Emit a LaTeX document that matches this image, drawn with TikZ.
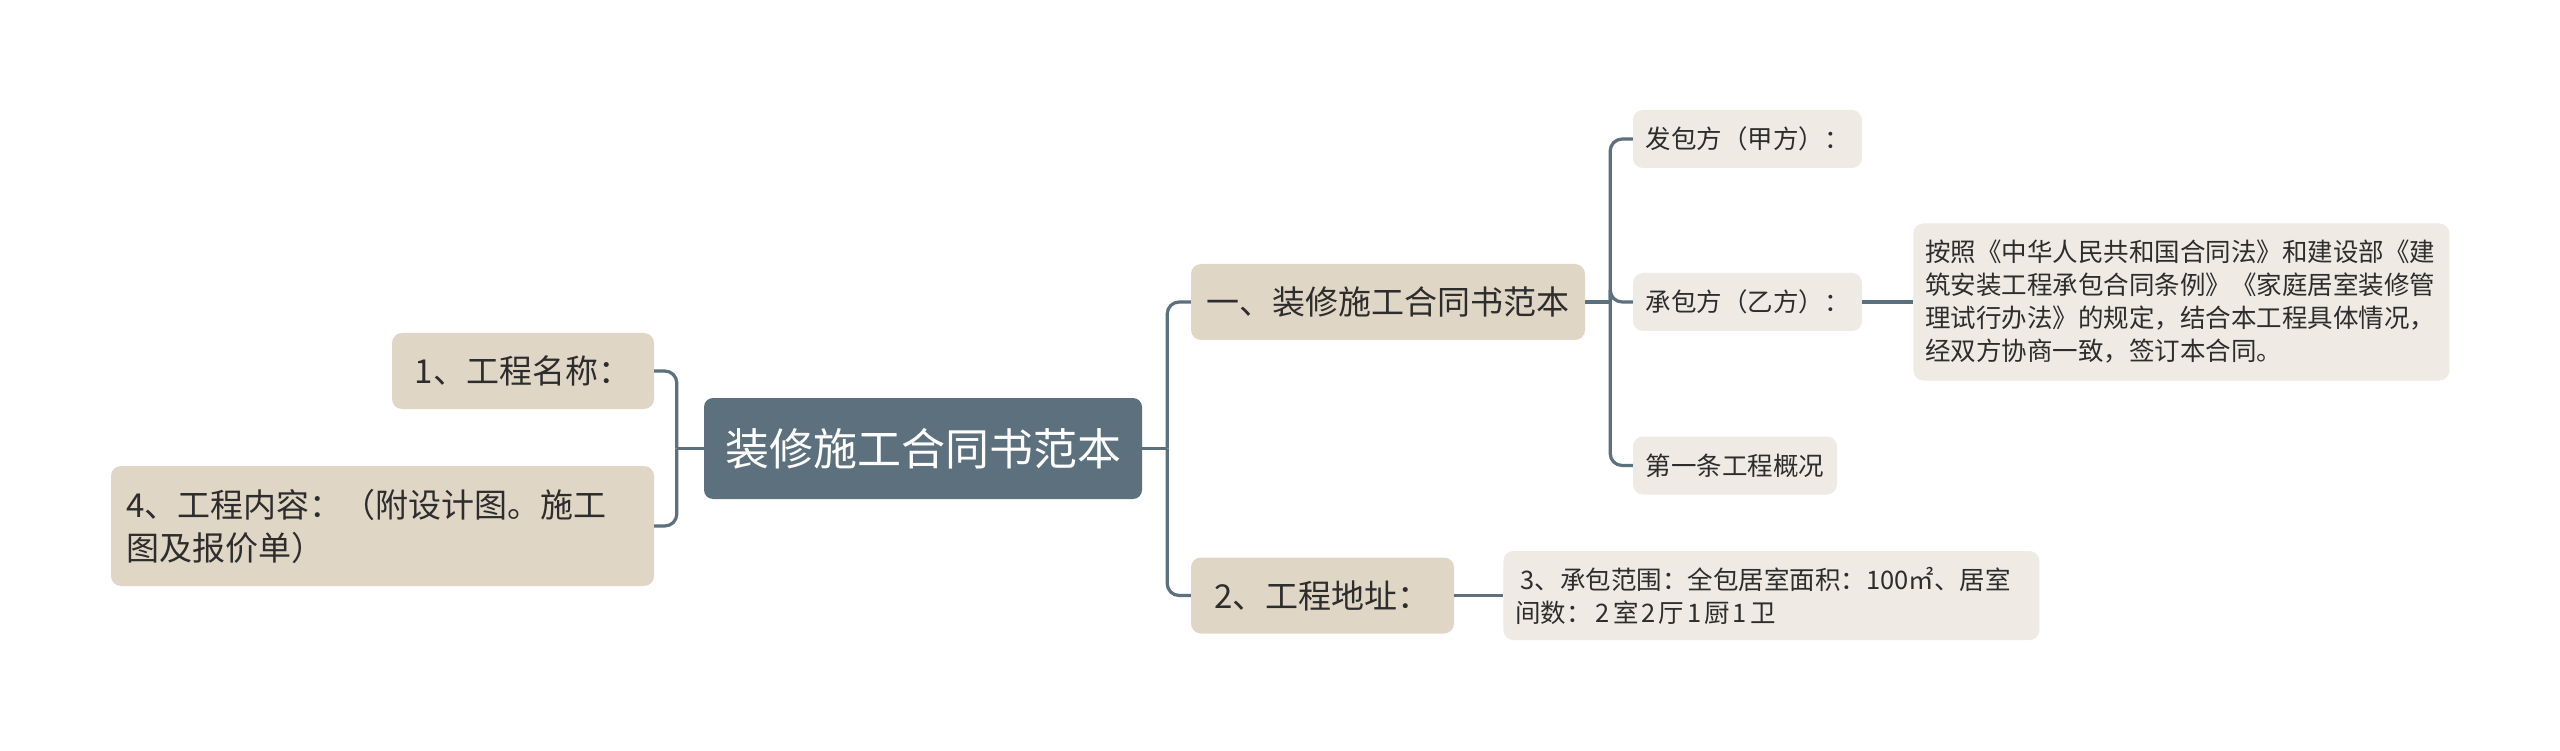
\documentclass[tikz,border=0pt]{standalone}
\usepackage{fontspec}
\setmainfont{Noto Sans CJK SC}
\usetikzlibrary{positioning}
\definecolor{rootslate}{RGB}{93,112,125}
\definecolor{boxbeige}{RGB}{224,214,198}
\definecolor{boxcream}{RGB}{239,235,228}
\definecolor{linkslate}{RGB}{93,112,125}
\definecolor{inkdark}{RGB}{45,45,45}
\tikzset{
  link/.style={draw=linkslate, line width=3.2pt, rounded corners=12pt},
  rootbox/.style={fill=rootslate, text=white, rounded corners=9pt, inner sep=0pt,
    minimum width=438pt, minimum height=101pt, font=\fontsize{44}{52}\selectfont},
  mainbox/.style={fill=boxbeige, text=inkdark, rounded corners=10pt, inner sep=0pt,
    minimum height=76pt, font=\fontsize{33}{43}\selectfont},
  subbox/.style={fill=boxcream, text=inkdark, rounded corners=10pt, inner sep=0pt,
    minimum height=58pt, font=\fontsize{25.5}{33}\selectfont},
  textbox/.style={align=left, inner xsep=12pt, inner ysep=0pt}
}

\begin{document}
\begin{tikzpicture}[x=1pt, y=-1pt]
  \fill[white] (0,0) rectangle (2560,751);
  \useasboundingbox (0,0) rectangle (2560,751);

  % Central topic.
  \node[rootbox] (root) at (923,448.5) {装修施工合同书范本};

  % Left branches.
  \node[mainbox, minimum width=262pt] (name) at (523,371) {1、工程名称：};
  \node[mainbox, textbox, inner xsep=15pt, text width=513pt, minimum height=120pt] (content) at (382.5,526) {4、工程内容：（附设计图。施工\\图及报价单）};

  % Right branches.
  \node[mainbox, minimum width=394pt] (part) at (1388,302) {一、装修施工合同书范本};
  \node[mainbox, minimum width=263pt] (site) at (1322.5,595.5) {2、工程地址：};

  % Sub-topics of the first section.
  \node[subbox, minimum width=229pt] (owner) at (1747.5,139) {发包方（甲方）：};
  \node[subbox, minimum width=229pt] (builder) at (1747.5,302) {承包方（乙方）：};
  \node[subbox, minimum width=204pt] (overview) at (1735,465.5) {第一条工程概况};
  \node[subbox, textbox, text width=512pt, minimum height=157pt, right=51pt of builder] (basis) {按照《中华人民共和国合同法》和建设部《建\\筑安装工程承包合同条例》《家庭居室装修管\\理试行办法》的规定，结合本工程具体情况，\\经双方协商一致，签订本合同。};
  \node[subbox, textbox, text width=512pt, minimum height=89pt, right=49pt of site] (scope) {\hspace*{5pt}3、承包范围：全包居室面积：100㎡、居室\\间数：\hspace{4pt}2\hspace{3pt}室\hspace{3pt}2\hspace{3pt}厅\hspace{3pt}1\hspace{3pt}厨\hspace{3pt}1\hspace{3pt}卫};

  % Hubs where the elbows split.
  \coordinate (lhub) at ([xshift=-27pt]root.west);
  \coordinate (rhub) at ([xshift=25pt]root.east);
  \coordinate (phub) at ([xshift=25pt]part.east);

  % Connectors.
  \draw[link] (root.west) -- (lhub);
  \draw[link] (lhub) |- (name.east);
  \draw[link] (lhub) |- (content.east);
  \draw[link] (root.east) -- (rhub);
  \draw[link] (rhub) |- (part.west);
  \draw[link] (rhub) |- (site.west);
  \draw[link] (part.east) -- (phub);
  \draw[link] (phub) |- (owner.west);
  \draw[link] (phub) |- (builder.west);
  \draw[link] (phub) |- (overview.west);
  \draw[link] (builder.east) -- (basis.west);
  \draw[link] (site.east) -- (scope.west);
\end{tikzpicture}
\end{document}
